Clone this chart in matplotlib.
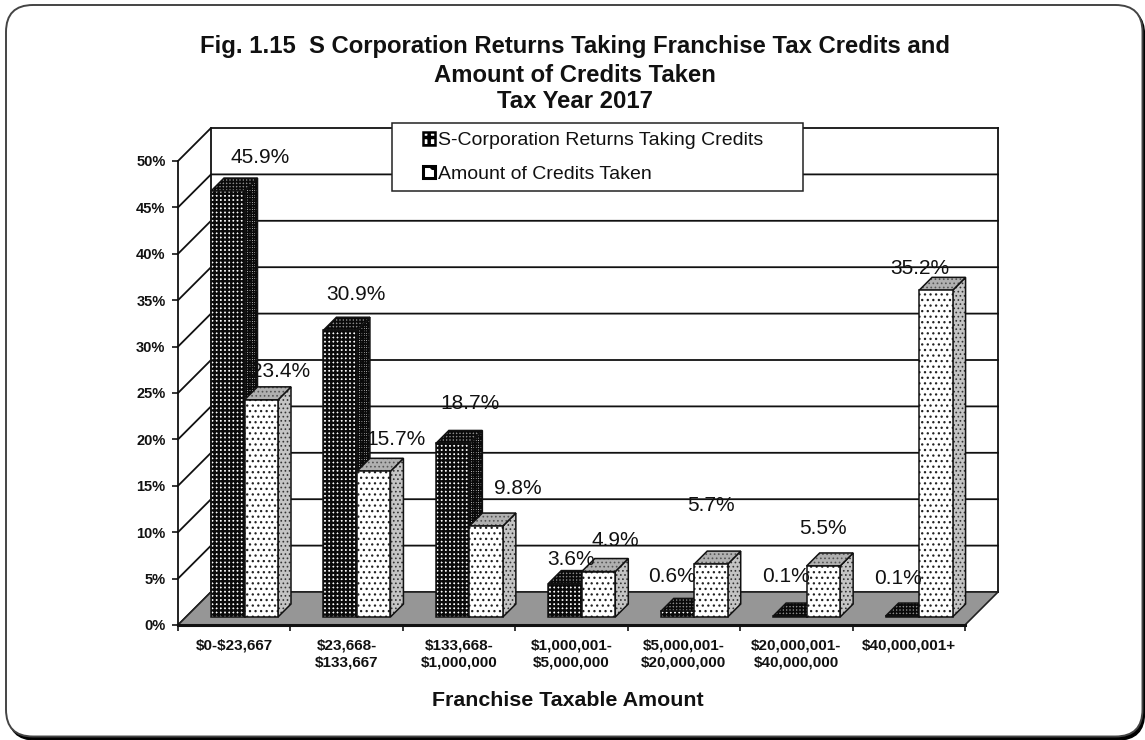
import matplotlib
matplotlib.use("Agg")
import matplotlib.pyplot as plt
from matplotlib.patches import Polygon, Rectangle, FancyBboxPatch, Patch

plt.rcParams['font.family'] = ['Liberation Sans', 'DejaVu Sans']
plt.rcParams['text.parse_math'] = False

# ---- data ----
title_lines = ["Fig. 1.15  S Corporation Returns Taking Franchise Tax Credits and",
               "Amount of Credits Taken", "Tax Year 2017"]
x_title = "Franchise Taxable Amount"
categories = ["$0-$23,667", "$23,668-\n$133,667", "$133,668-\n$1,000,000", "$1,000,001-\n$5,000,000",
              "$5,000,001-\n$20,000,000", "$20,000,001-\n$40,000,000", "$40,000,001+"]
series_names = ["S-Corporation Returns Taking Credits", "Amount of Credits Taken"]
returns_pct = [45.9, 30.9, 18.7, 3.6, 0.6, 0.1, 0.1]
credits_pct = [23.4, 15.7, 9.8, 4.9, 5.7, 5.5, 35.2]
y_ticks = [0, 5, 10, 15, 20, 25, 30, 35, 40, 45, 50]

# ---- label offsets from the top centre of each bar, in pixels ----
returns_label_off = [(32, 34), (16, 36), (17, 40), (6, 24), (-5, 35), (-4, 40), (-4, 38)]
credits_label_off = [(19, 28), (22, 32), (32, 38), (17, 31), (0, 59), (0, 37), (-16, 22)]

W, H = 1145, 740
fig = plt.figure(figsize=(W / 100, H / 100), dpi=100, facecolor='white')

# ---- rounded frame ----
bg = fig.add_axes([0, 0, 1, 1], zorder=0)
bg.set_xlim(0, W); bg.set_ylim(H, 0); bg.axis('off')
bg.add_patch(FancyBboxPatch((8.5, 8), 1136, 732, boxstyle="round,pad=0,rounding_size=27", fc='black', ec='black', lw=1))
bg.add_patch(FancyBboxPatch((6, 5), 1136.5, 731.5, boxstyle="round,pad=0,rounding_size=27", fc='white', ec='#444444', lw=1.4))

# ---- main axes: front plane of the chart ----
PLEFT, PRIGHT, PBOT, PTOP = 178, 965, 625, 161
ax = fig.add_axes([PLEFT / W, (H - PBOT) / H, (PRIGHT - PLEFT) / W, (PBOT - PTOP) / H], zorder=1)
ax.set_xlim(0, len(categories)); ax.set_ylim(0, 50)
ax.patch.set_visible(False)
ux = len(categories) / (PRIGHT - PLEFT)   # data units per pixel
uy = 50 / (PBOT - PTOP)
n = len(categories)
DEPTH, BAR_D0, BAR_D1 = 33, 8, 21
GAP, BW = 25, 33.5


def dp(x, y, d):
    return (x + d * ux, y + d * uy)


def hpoly(pts, face, hatch_col, hatch, hlw, z):
    plt.rcParams['hatch.linewidth'] = hlw
    ax.add_patch(Polygon(pts, closed=True, facecolor=face, edgecolor=hatch_col, hatch=hatch, lw=0, zorder=z, clip_on=False))
    ax.add_patch(Polygon(pts, closed=True, facecolor='none', edgecolor='#111111', lw=1.1, zorder=z + 0.01, clip_on=False))


# walls and gridlines
LINE = '#111111'
for v in y_ticks:
    a = dp(0, v, 0); b = dp(0, v, DEPTH); c = dp(n, v, DEPTH)
    ax.plot([a[0], b[0], c[0]], [a[1], b[1], c[1]], color=LINE, lw=1.3, zorder=1, clip_on=False)
p0 = dp(0, 0, DEPTH); p1 = dp(0, 50, DEPTH); p2 = dp(n, 0, DEPTH); p3 = dp(n, 50, DEPTH)
ax.plot([p0[0], p1[0]], [p0[1], p1[1]], color=LINE, lw=1.3, zorder=1, clip_on=False)
ax.plot([p2[0], p3[0]], [p2[1], p3[1]], color=LINE, lw=1.3, zorder=1, clip_on=False)
ax.add_patch(Polygon([dp(0, 0, 0), dp(n, 0, 0), dp(n, 0, DEPTH), dp(0, 0, DEPTH)], closed=True,
                     facecolor='#969696', edgecolor='#222222', lw=1.2, zorder=2, clip_on=False))


def bar3d(x, w, h, style, z):
    f0 = dp(x, 0, BAR_D0); f1 = dp(x + w, 0, BAR_D0)
    ft0 = dp(x, h, BAR_D0); ft1 = dp(x + w, h, BAR_D0)
    bt0 = dp(x, h, BAR_D1); bt1 = dp(x + w, h, BAR_D1); b1 = dp(x + w, 0, BAR_D1)
    hpoly([f1, b1, bt1, ft1], *style['side'], z)
    hpoly([ft0, ft1, bt1, bt0], *style['top'], z + 0.1)
    hpoly([f0, f1, ft1, ft0], *style['front'], z + 0.2)


dark = dict(front=('white', '#0a0a0a', '++++', 1.7), side=('white', '#0a0a0a', '+++++++', 1.1),
            top=('#8a8a8a', '#0a0a0a', '+++++', 1.3))
light = dict(front=('white', '#222222', '...', 0.9), side=('#c4c4c4', '#333333', '....', 0.7),
             top=('#b0b0b0', '#555555', '....', 0.7))

for i in range(n):
    x0 = i + GAP * ux
    w = BW * ux
    bar3d(x0, w, returns_pct[i], dark, 3 + i)
    bar3d(x0 + w, w, credits_pct[i], light, 3 + i + 0.5)

# data labels (on top of the bars)
for i in range(n):
    x0 = i + GAP * ux
    w = BW * ux
    for val, xb, off in ((returns_pct[i], x0, returns_label_off[i]), (credits_pct[i], x0 + w, credits_label_off[i])):
        anchor = dp(xb + w / 2, val, BAR_D0)
        ax.annotate(f"{val:.1f}%", xy=anchor, xytext=(off[0] * 0.72, off[1] * 0.72), textcoords='offset points',
                    ha='center', va='center', fontsize=15, color='#111111', zorder=20, annotation_clip=False)

# axes, ticks
for s in ('top', 'right'):
    ax.spines[s].set_visible(False)
ax.spines['left'].set_linewidth(1.3); ax.spines['left'].set_color(LINE)
ax.spines['bottom'].set_linewidth(2.2); ax.spines['bottom'].set_color(LINE)
ax.spines['left'].set_zorder(2.5); ax.spines['bottom'].set_zorder(2.5)
ax.set_yticks(y_ticks)
ax.set_yticklabels([f"{v}%" for v in y_ticks], fontsize=10.5, fontweight='bold', color='#111111')
ax.tick_params(axis='y', length=4.5, width=1.1, pad=4.5)
ax.set_xticks(range(n + 1))
ax.set_xticklabels([''] * (n + 1))
ax.tick_params(axis='x', which='major', length=4.5, width=1.1)
ax.set_xticks([i + 0.5 for i in range(n)], minor=True)
ax.set_xticklabels(categories, minor=True, fontsize=11, fontweight='bold', color='#111111', linespacing=1.2)
ax.tick_params(axis='x', which='minor', length=0, pad=10)

# ---- titles and legend on an overlay in pixel coordinates ----
top = fig.add_axes([0, 0, 1, 1], zorder=2)
top.set_xlim(0, W); top.set_ylim(H, 0); top.axis('off')
for line, y in zip(title_lines, (47, 75, 101)):
    top.text(575, y, line, ha='center', va='center', fontsize=17.2, fontweight='bold', color='#111111')
top.text(568, 701, x_title, ha='center', va='center', fontsize=15.4, fontweight='bold', color='#111111')

top.add_patch(Rectangle((392, 123), 411, 68, fc='white', ec='#222222', lw=1.1, zorder=3))
plt.rcParams['hatch.linewidth'] = 2.5
handles = [Patch(facecolor='white', edgecolor='black', hatch='++', lw=1.8, label=series_names[0]),
           Patch(facecolor='white', edgecolor='black', hatch='.', lw=2.2, label=series_names[1])]
leg = top.legend(handles=handles, loc='upper left', bbox_to_anchor=(423, 132), bbox_transform=top.transData,
                 frameon=False, fontsize=14, handlelength=0.62, handleheight=0.62, handletextpad=0.14,
                 labelspacing=0.86, borderpad=0, borderaxespad=0, labelcolor='#111111')
leg.set_zorder(4)

fig.savefig('out.png', dpi=100)
